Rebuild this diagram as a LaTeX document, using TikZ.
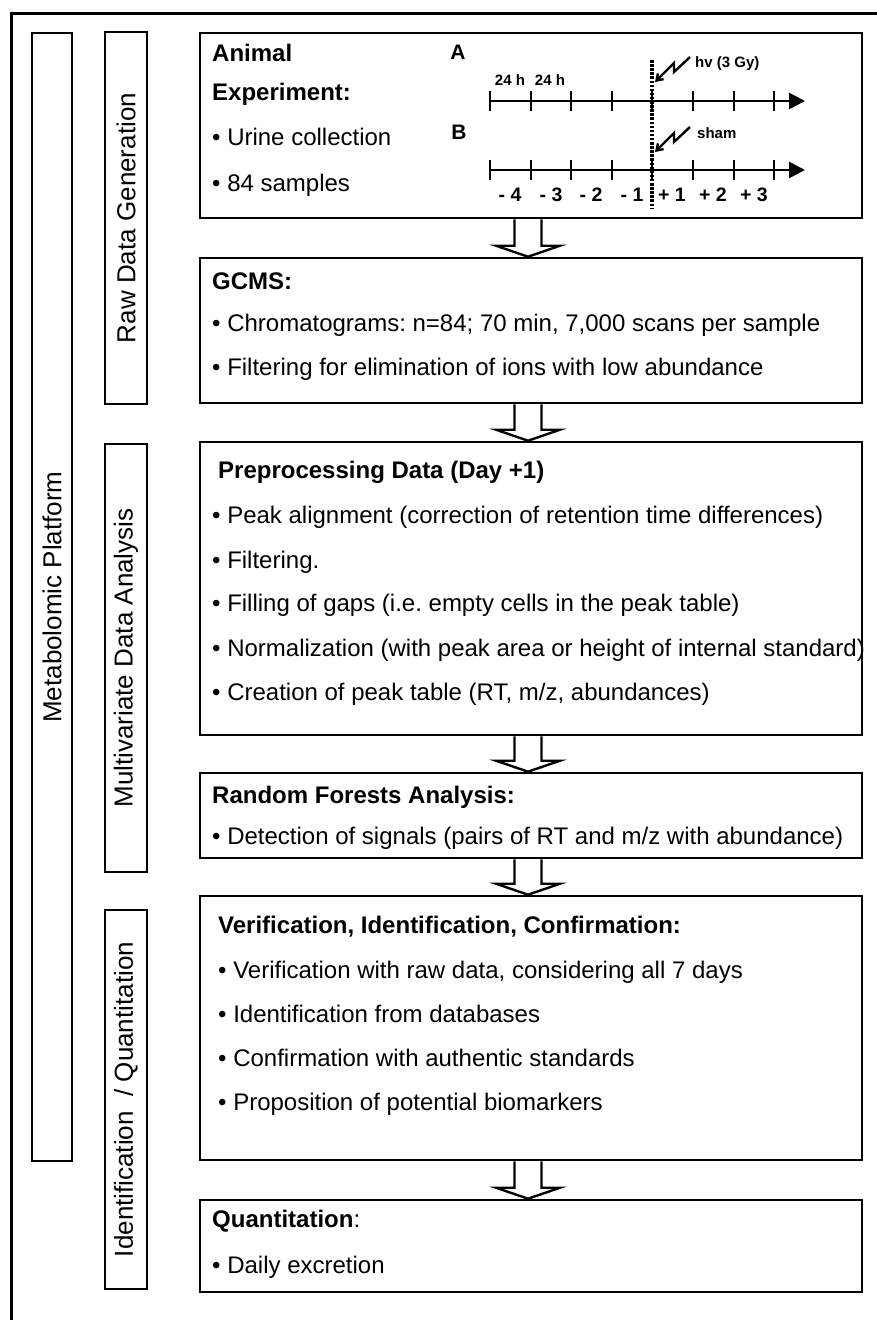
\documentclass[tikz,border=0pt]{standalone}
\usepackage{fontspec}
\setmainfont{Liberation Sans}
\usetikzlibrary{calc,arrows.meta}
\newcommand\blockarr[2]{\draw[arr] ($(#1.south)+(-16.5,0)$) -- ($(#2.north)+(-16.5,-11)$) -- ($(#2.north)+(-35,-11)$) -- ($(#2.north)+(-3,0)$) -- ($(#2.north)+(29,-11)$) -- ($(#2.north)+(10.5,-11)$) -- ($(#1.south)+(10.5,0)$);}
\frenchspacing
\begin{document}
\begin{tikzpicture}[x=1pt,y=-1pt,
  box/.style={draw,line width=2.6pt,minimum width=662pt,inner sep=0pt},
  side/.style={draw,line width=2.6pt,inner sep=0pt},
  txt/.style={anchor=base west,inner sep=0pt,font=\fontsize{24}{28}\selectfont},
  hd/.style={anchor=base west,inner sep=0pt,font=\fontsize{24}{28}\selectfont\bfseries},
  sidetxt/.style={rotate=90,inner sep=0pt,font=\fontsize{26}{30}\selectfont},
  tl/.style={inner sep=0pt,font=\fontsize{15}{18}\selectfont\bfseries},
  num/.style={inner sep=0pt,font=\fontsize{19.5}{23}\selectfont\bfseries},
  lett/.style={inner sep=0pt,font=\fontsize{21}{24}\selectfont\bfseries},
  arr/.style={draw,line width=2.4pt,line join=miter},
  axis/.style={line width=2.8pt,-{Triangle[length=16pt,width=16pt]}},
  tick/.style={line width=2.6pt},
  bolt/.style={line width=2.4pt,-{Straight Barb[length=6pt,width=8pt]}},
]
\useasboundingbox (0,0) rectangle (876,1320);
\draw[line width=3pt] (11,1340) -- (11,13) -- (900,13);

% side boxes
\node[side,minimum width=40pt,minimum height=1128pt] (met) at (52,597) {};
\node[sidetxt] (mett) at (met.center) {Metabolomic Platform};
\node[side,minimum width=42pt,minimum height=372pt] (raw) at (126,218) {};
\node[sidetxt] (rawt) at (raw.center) {Raw Data Generation};
\node[side,minimum width=42pt,minimum height=428pt] (mva) at (126,658) {};
\node[sidetxt] (mvat) at (mva.center) {Multivariate Data Analysis};
\node[side,minimum width=42pt,minimum height=379pt] (idq) at (126,1099.5) {};
\node[sidetxt] (idqt) at (idq.center) {Identification\ \ / Quantitation};

% content boxes
\node[box,minimum height=185pt] (anim) at (531,125.5) {};
\node[box,minimum height=145pt] (gcms) at (531,330.5) {};
\node[box,minimum height=293pt] (prep) at (531,588.5) {};
\node[box,minimum height=85pt] (rf) at (531,815.5) {};
\node[box,minimum height=264pt] (ver) at (531,1028) {};
\node[box,minimum height=92pt] (quant) at (531,1246) {};

\blockarr{anim}{gcms}
\blockarr{gcms}{prep}
\blockarr{prep}{rf}
\blockarr{rf}{ver}
\blockarr{ver}{quant}

% animal experiment
\node[hd] (a1) at (212,61) {Animal};
\node[hd] (a2) at (212,100) {Experiment:};
\node[txt] (a3) at (212,145) {• Urine collection};
\node[txt] (a4) at (212,191) {• 84 samples};

% timeline
\node[lett] (la) at (458,52) {A};
\node[lett] (lb) at (459,132) {B};
\coordinate (ta0) at (490,101); \coordinate (ta1) at (805,101);
\coordinate (tb0) at (490,170); \coordinate (tb1) at (805,170);
\draw[axis] (ta0) -- (ta1);
\draw[axis] (tb0) -- (tb1);
\foreach \x in {490,531,571,612,652,693,734,774}{
  \draw[tick] (\x,91) -- (\x,111);
  \draw[tick] (\x,160) -- (\x,180);
}
\coordinate (d0) at (652,60); \coordinate (d1) at (652,208);
\draw[line width=3.2pt,dash pattern=on 2.5pt off 1.6pt] (d0) -- (d1);
\node[tl] (h1) at (510,80) {24 h};
\node[tl] (h2) at (550,80) {24 h};
\node[tl,anchor=west] (hv) at (695,64) {hv (3 Gy)};
\node[tl,anchor=west] (sham) at (697,133) {sham};
\coordinate (ba) at (690,57);
\coordinate (bb) at (690,127);
\draw[bolt] (ba) -- ++(-16,15) -- ++(0,-9) -- ++(-19,19);
\draw[bolt] (bb) -- ++(-16,15) -- ++(0,-9) -- ++(-19,19);
\foreach \x/\t in {510/- 4,551/- 3,591/- 2,632/- 1,672/+ 1,713/+ 2,754/+ 3}
  \node[num] at (\x,195) {\t};

% GCMS
\node[hd] (g1) at (212,289) {GCMS:};
\node[txt] (g2) at (212,331) {• Chromatograms: n=84; 70 min, 7,000 scans per sample};
\node[txt] (g3) at (212,375) {• Filtering for elimination of ions with low abundance};

% preprocessing
\node[hd] (p0) at (218,478) {Preprocessing Data (Day +1)};
\node[txt] (p1) at (212,523) {• Peak alignment (correction of retention time differences)};
\node[txt] (p2) at (212,568) {• Filtering.};
\node[txt] (p3) at (212,611) {• Filling of gaps (i.e. empty cells in the peak table)};
\node[txt] (p4) at (212,656) {• Normalization (with peak area or height of internal standard)};
\node[txt] (p5) at (212,700) {• Creation of peak table (RT, m/z, abundances)};

% random forests
\node[hd] (r0) at (212,803) {Random Forests Analysis:};
\node[txt] (r1) at (212,844) {• Detection of signals (pairs of RT and m/z with abundance)};

% verification
\node[hd] (v0) at (218,933) {Verification, Identification, Confirmation:};
\node[txt] (v1) at (218,978) {• Verification with raw data, considering all 7 days};
\node[txt] (v2) at (218,1022) {• Identification from databases};
\node[txt] (v3) at (218,1066) {• Confirmation with authentic standards};
\node[txt] (v4) at (218,1110) {• Proposition of potential biomarkers};

% quantitation
\node[txt] (q0) at (212,1227) {\textbf{Quantitation}:};
\node[txt] (q1) at (212,1273) {• Daily excretion};
\end{tikzpicture}
\end{document}
